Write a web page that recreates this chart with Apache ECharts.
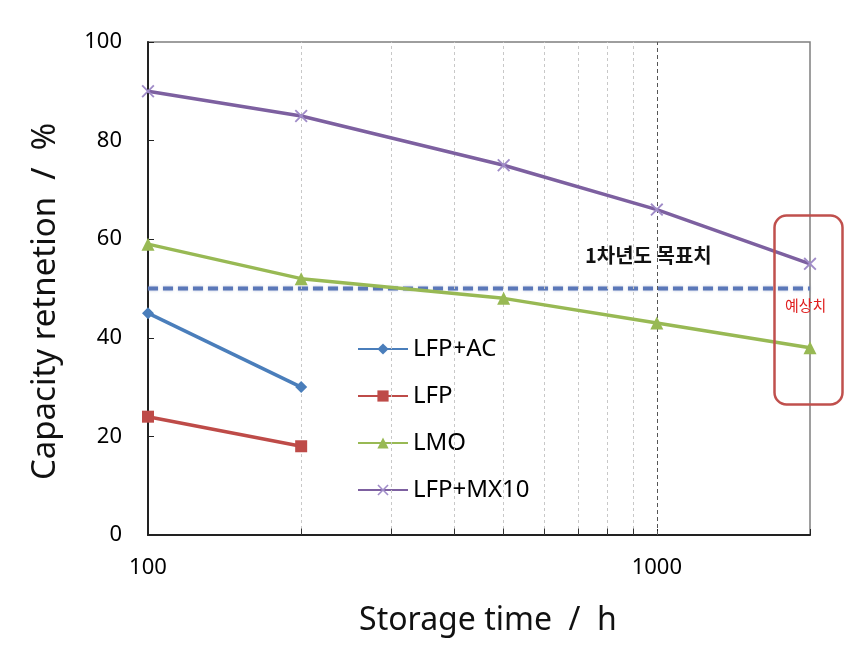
<!DOCTYPE html>
<html>
<head>
<meta charset="utf-8">
<script src="https://cdn.jsdelivr.net/npm/echarts@6/dist/echarts.min.js"></script>
<style>html,body{margin:0;padding:0;background:#fff}#c{width:856px;height:661px}</style>
</head>
<body>
<div id="c"></div>
<script>
const seriesNames = ['LFP+AC', 'LFP', 'LMO', 'LFP+MX10'];
const lfpAcX = [100, 200];
const lfpAcY = [45, 30];
const lfpX = [100, 200];
const lfpY = [24, 18];
const lmoX = [100, 200, 500, 1000, 2000];
const lmoY = [59, 52, 48, 43, 38];
const mxX = [100, 200, 500, 1000, 2000];
const mxY = [90, 85, 75, 66, 55];
const targetX = [100, 2000];
const targetY = [50, 50];
const minorGridX = [200, 300, 400, 500, 600, 700, 800, 900];
const majorGridX = [1000];
const yTicks = [0, 20, 40, 60, 80, 100];
const xTickLabels = [100, 1000];

const zip = (xs, ys) => xs.map((x, i) => [x, ys[i]]);
const FONT = '"Noto Sans", "Open Sans", "Noto Sans CJK KR", sans-serif';
const crossPath = 'path://M0,1L1,0L5,4L9,0L10,1L6,5L10,9L9,10L5,6L1,10L0,9L4,5Z';

const gridLines = [];
minorGridX.forEach(x => {
  gridLines.push([{coord: [x, 0], lineStyle: {color: '#c8c8c8', type: [3, 3], width: 1}}, {coord: [x, 100]}]);
  gridLines.push([{coord: [x, 0], lineStyle: {color: '#333', type: 'solid', width: 1}}, {coord: [x, 1.3]}]);
});
majorGridX.forEach(x => {
  gridLines.push([{coord: [x, 0], lineStyle: {color: '#555', type: [4, 3], width: 1}}, {coord: [x, 100]}]);
});

const chart = echarts.init(document.getElementById('c'));
chart.setOption({
  animation: false,
  backgroundColor: '#fff',
  textStyle: {fontFamily: FONT},
  grid: {left: 148, top: 42, right: 46, bottom: 126, show: true, borderColor: '#7f7f7f', borderWidth: 1.5},
  legend: {
    data: seriesNames,
    orient: 'vertical',
    left: 352, top: 332,
    itemWidth: 50, itemHeight: 14, itemGap: 23,
    textStyle: {fontSize: 24, color: '#000', fontFamily: FONT}
  },
  xAxis: {
    type: 'log', logBase: 10, min: 100, max: 2000,
    name: 'Storage time  /  h', nameLocation: 'middle', nameGap: 70,
    nameTextStyle: {fontSize: 32, color: '#111', fontFamily: FONT, padding: [0, 0, 0, 18]},
    axisLine: {lineStyle: {color: '#222', width: 2}},
    axisTick: {inside: true, length: 6, lineStyle: {color: '#222'}},
    axisLabel: {fontSize: 22, color: '#000', margin: 22,
      formatter: v => (xTickLabels.indexOf(Math.round(v)) >= 0 ? String(Math.round(v)) : '')},
    splitLine: {show: false}
  },
  yAxis: {
    type: 'value', min: 0, max: 100, interval: 20,
    name: 'Capacity retnetion  /  %', nameLocation: 'middle', nameGap: 86,
    nameTextStyle: {fontSize: 33, color: '#111', fontFamily: FONT, padding: [0, 26, 0, 0]},
    axisLine: {show: true, lineStyle: {color: '#222', width: 2}},
    axisTick: {show: true, inside: true, length: 6, lineStyle: {color: '#222'}},
    axisLabel: {fontSize: 22, color: '#000', margin: 26,
      formatter: v => (yTicks.indexOf(v) >= 0 ? String(v) : '')},
    splitLine: {show: false}
  },
  series: [
    {
      name: 'grid', type: 'line', data: [], silent: true,
      markLine: {silent: true, symbol: 'none', label: {show: false}, data: gridLines, animation: false}
    },
    {
      name: 'target', type: 'line', data: zip(targetX, targetY), symbol: 'none', silent: true,
      lineStyle: {color: '#5a77b8', width: 4, type: [10, 5], shadowColor: 'rgba(120,140,190,0.5)', shadowBlur: 3}, z: 3
    },
    {
      name: 'LFP+AC', type: 'line', data: zip(lfpAcX, lfpAcY),
      symbol: 'diamond', symbolSize: 12,
      lineStyle: {color: '#4a7ebb', width: 3.5}, itemStyle: {color: '#4a7ebb'}, z: 5
    },
    {
      name: 'LFP', type: 'line', data: zip(lfpX, lfpY),
      symbol: 'rect', symbolSize: 12,
      lineStyle: {color: '#be4b48', width: 3.5}, itemStyle: {color: '#be4b48'}, z: 5
    },
    {
      name: 'LMO', type: 'line', data: zip(lmoX, lmoY),
      symbol: 'triangle', symbolSize: 13,
      lineStyle: {color: '#98b954', width: 3.5}, itemStyle: {color: '#98b954'}, z: 5
    },
    {
      name: 'LFP+MX10', type: 'line', data: zip(mxX, mxY),
      symbol: crossPath, symbolSize: 13,
      lineStyle: {color: '#7d60a0', width: 3.5}, itemStyle: {color: '#a08cc8'}, z: 5
    }
  ],
  graphic: [
    {type: 'text', left: 585, top: 245, z: 10,
      style: {text: '1차년도 목표치', fontSize: 20, fontWeight: 'bold', fill: '#111', fontFamily: '"Noto Sans CJK KR", sans-serif'}},
    {type: 'rect', left: 772, top: 213, z: 10,
      shape: {width: 68, height: 189, r: 12},
      style: {fill: 'none', stroke: '#c0504d', lineWidth: 2.5}},
    {type: 'text', left: 785, top: 298, z: 10,
      style: {text: '예상치', fontSize: 15, fill: '#e02020', fontFamily: '"Noto Sans CJK KR", sans-serif'}}
  ]
});
</script>
</body>
</html>
